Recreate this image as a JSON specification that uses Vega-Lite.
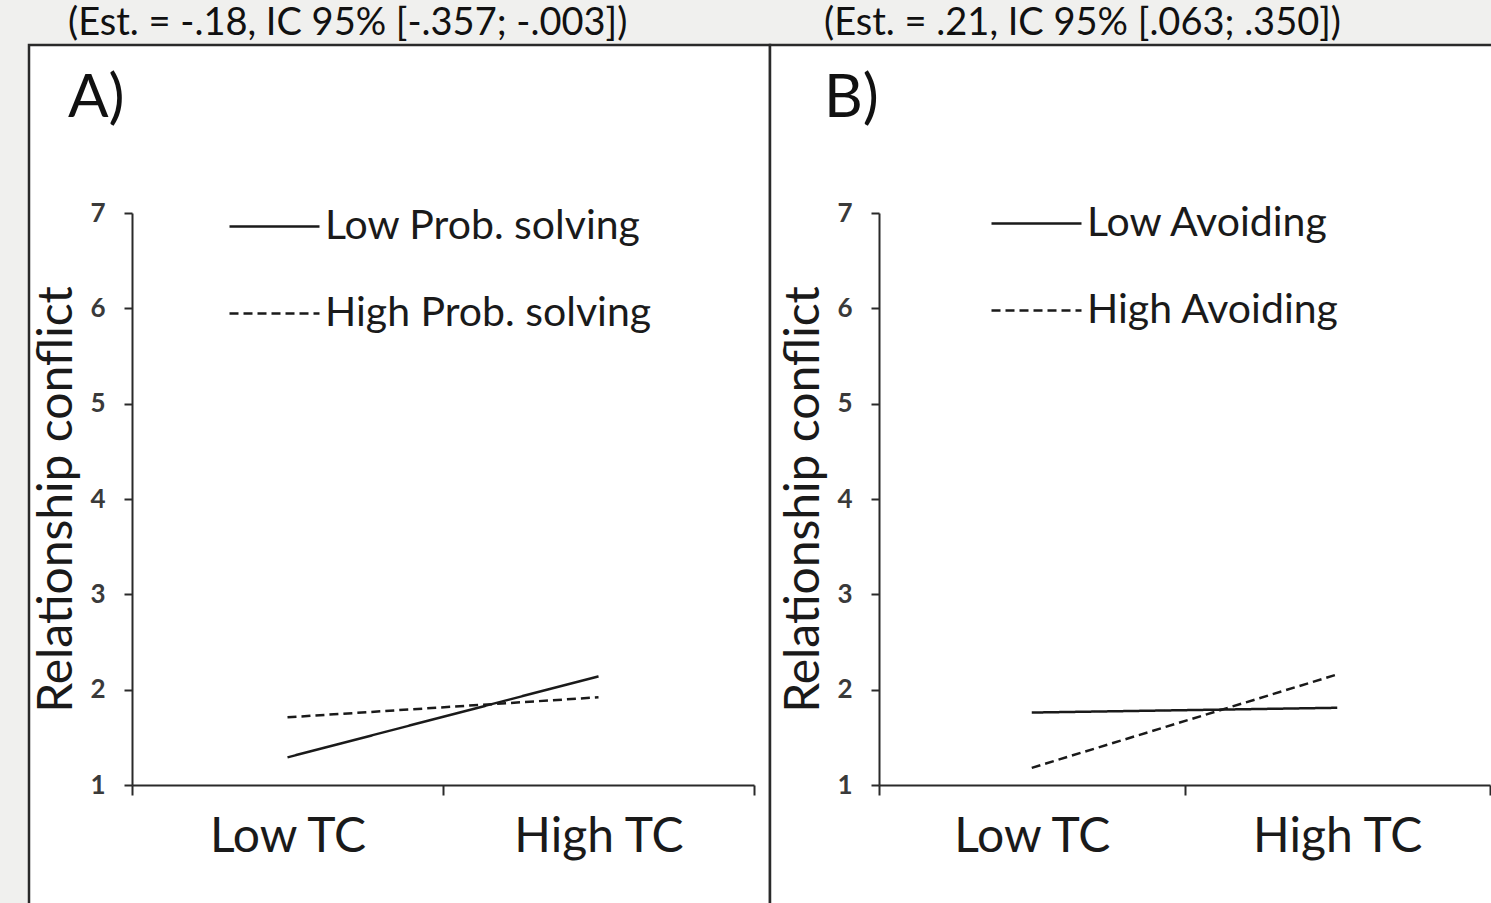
{
  "$schema": "https://vega.github.io/schema/vega-lite/v6.json",
  "background": "#f0f0ee",
  "padding": {"left": 27, "top": 3, "right": 0, "bottom": 0},
  "autosize": {"type": "pad"},
  "spacing": 0,
  "bounds": "flush",
  "config": {
    "font": "Lato",
    "view": {"fill": "white", "stroke": "#2a2a2a", "strokeWidth": 2.5},
    "axis": {"grid": false, "domainColor": "#2a2a2a", "domainWidth": 2, "tickColor": "#2a2a2a", "tickWidth": 2},
    "title": {"font": "Lato", "fontSize": 38, "fontWeight": "normal", "color": "#111111", "anchor": "start", "subtitleFont": "Lato", "subtitleFontSize": 60, "subtitleColor": "#111111", "subtitlePadding": 27},
    "legend": {"padding": 0, "symbolType": "stroke", "symbolSize": 8100, "symbolStrokeWidth": 2.5, "symbolStrokeColor": "#1a1a1a", "labelFont": "Lato", "labelFontSize": 41, "labelColor": "#1a1a1a", "labelOffset": 4, "rowPadding": 20, "labelLimit": 600}
  },
  "resolve": {"scale": {"x": "independent", "y": "independent", "strokeDash": "independent"}, "legend": {"strokeDash": "independent"}, "axis": {"x": "independent", "y": "independent"}},
  "hconcat": [
    {
      "width": 741,
      "height": 906,
      "title": {"text": "(Est.  = -.18, IC 95% [-.357; -.003])", "subtitle": "A)", "dx": 39, "offset": -84},
      "data": {"values": [
        {"tc": "Low TC", "group": "Low Prob. solving", "conflict": 1.29},
        {"tc": "High TC", "group": "Low Prob. solving", "conflict": 2.14},
        {"tc": "Low TC", "group": "High Prob. solving", "conflict": 1.71},
        {"tc": "High TC", "group": "High Prob. solving", "conflict": 1.92}
      ]},
      "mark": {"type": "line", "color": "#1a1a1a", "strokeWidth": 2.5},
      "encoding": {
        "x": {"field": "tc", "type": "nominal", "bandPosition": 0.5,
          "scale": {"type": "band", "domain": ["Low TC", "High TC"], "range": [103, 725], "paddingInner": 0, "paddingOuter": 0},
          "axis": {"title": null, "orient": "bottom", "offset": -166, "tickBand": "extent", "tickSize": 10, "labelAngle": 0, "labelFont": "Lato", "labelFontSize": 48, "labelColor": "#1a1a1a", "labelPadding": 18}},
        "y": {"field": "conflict", "type": "quantitative",
          "scale": {"domain": [1, 7], "range": [740, 168], "nice": false, "zero": false},
          "axis": {"title": "Relationship conflict", "orient": "left", "offset": -103, "values": [1, 2, 3, 4, 5, 6, 7], "tickSize": 8, "labelFont": "Lato", "labelFontSize": 26, "labelFontWeight": "bold", "labelColor": "#3a3a3a", "labelPadding": 19, "titleFont": "Lato", "titleFontSize": 48, "titleFontWeight": "normal", "titleColor": "#1a1a1a", "titlePadding": 8}},
        "strokeDash": {"field": "group", "type": "nominal",
          "scale": {"domain": ["Low Prob. solving", "High Prob. solving"], "range": [[1, 0], [9, 5]]},
          "legend": {"title": null, "orient": "none", "legendX": 199, "legendY": 135}}
      }
    },
    {
      "width": 740,
      "height": 906,
      "title": {"text": "(Est.  = .21, IC 95% [.063; .350])", "subtitle": "B)", "dx": 54, "offset": -84},
      "data": {"values": [
        {"tc": "Low TC", "group": "Low Avoiding", "conflict": 1.76},
        {"tc": "High TC", "group": "Low Avoiding", "conflict": 1.81},
        {"tc": "Low TC", "group": "High Avoiding", "conflict": 1.18},
        {"tc": "High TC", "group": "High Avoiding", "conflict": 2.16}
      ]},
      "mark": {"type": "line", "color": "#1a1a1a", "strokeWidth": 2.5},
      "encoding": {
        "x": {"field": "tc", "type": "nominal", "bandPosition": 0.5,
          "scale": {"type": "band", "domain": ["Low TC", "High TC"], "range": [109, 720], "paddingInner": 0, "paddingOuter": 0},
          "axis": {"title": null, "orient": "bottom", "offset": -166, "tickBand": "extent", "tickSize": 10, "labelAngle": 0, "labelFont": "Lato", "labelFontSize": 48, "labelColor": "#1a1a1a", "labelPadding": 18}},
        "y": {"field": "conflict", "type": "quantitative",
          "scale": {"domain": [1, 7], "range": [740, 168], "nice": false, "zero": false},
          "axis": {"title": "Relationship conflict", "orient": "left", "offset": -109, "values": [1, 2, 3, 4, 5, 6, 7], "tickSize": 8, "labelFont": "Lato", "labelFontSize": 26, "labelFontWeight": "bold", "labelColor": "#3a3a3a", "labelPadding": 19, "titleFont": "Lato", "titleFontSize": 48, "titleFontWeight": "normal", "titleColor": "#1a1a1a", "titlePadding": 8}},
        "strokeDash": {"field": "group", "type": "nominal",
          "scale": {"domain": ["Low Avoiding", "High Avoiding"], "range": [[1, 0], [9, 5]]},
          "legend": {"title": null, "orient": "none", "legendX": 220, "legendY": 132}}
      }
    }
  ]
}
